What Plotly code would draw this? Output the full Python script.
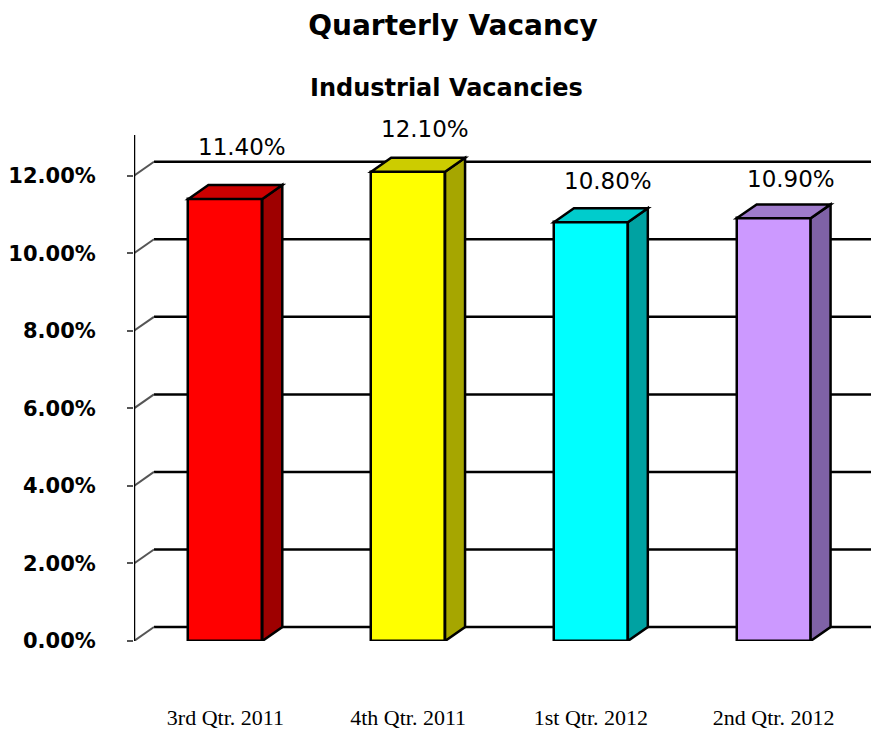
import plotly.graph_objects as go

categories = ["3rd Qtr. 2011", "4th Qtr. 2011", "1st Qtr. 2012", "2nd Qtr. 2012"]
vacancy = [11.40, 12.10, 10.80, 10.90]
front_colors = ["#FF0000", "#FFFF00", "#00FFFF", "#CC99FF"]
top_colors = ["#CC0000", "#CCCC00", "#00CCCC", "#9F7BCB"]
side_colors = ["#9E0000", "#A6A600", "#00A2A2", "#7F62A6"]
tick_values = [0, 2, 4, 6, 8, 10, 12]
tick_labels = ["0.00%", "2.00%", "4.00%", "6.00%", "8.00%", "10.00%", "12.00%"]
label_lift = [38, 29, 27, 25]  # px above the top face for the value labels

OFF = 8  # page body margin
W, H = 879 - OFF, 730 - OFF
L, T = 133 - OFF, 100 - OFF
B = H - (643 - OFF)
R = 0
px_per_x = 183.0
px_per_y = 38.92
plot_w = W - L - R
plot_h = H - T - B
x0 = -0.5
x1 = x0 + plot_w / px_per_x
y1 = plot_h / px_per_y
dx = 20 / px_per_x   # depth offset in x units
dy = 14 / px_per_y   # depth offset in y units
bw = 74 / px_per_x   # bar width
wall_top = 13.05

xs = list(range(len(categories)))

fig = go.Figure()
fig.add_trace(go.Bar(
    x=xs, y=vacancy, width=bw,
    marker=dict(color=front_colors, line=dict(color="black", width=2.5)),
    hoverinfo="skip", showlegend=False,
))

shapes = []
for v in tick_values:
    shapes.append(dict(type="line", xref="x", yref="y", layer="below",
                       x0=x0 + dx, x1=x1, y0=v + dy, y1=v + dy,
                       line=dict(color="black", width=2.5)))
    shapes.append(dict(type="line", xref="x", yref="y", layer="below",
                       x0=x0, x1=x0 + dx, y0=v, y1=v + dy,
                       line=dict(color="#555555", width=2)))
shapes.append(dict(type="line", xref="x", yref="y", layer="above",
                   x0=x0, x1=x0, y0=0, y1=wall_top,
                   line=dict(color="black", width=2.5)))

for i, v in enumerate(vacancy):
    xl = i - bw / 2
    xr = i + bw / 2
    side = f"M {xr},0 L {xr + dx},{dy} L {xr + dx},{v + dy} L {xr},{v} Z"
    top = f"M {xl},{v} L {xl + dx},{v + dy} L {xr + dx},{v + dy} L {xr},{v} Z"
    shapes.append(dict(type="path", path=side, xref="x", yref="y", layer="above",
                       fillcolor=side_colors[i], line=dict(color="black", width=2.5)))
    shapes.append(dict(type="path", path=top, xref="x", yref="y", layer="above",
                       fillcolor=top_colors[i], line=dict(color="black", width=2.5)))

annotations = []
for i, v in enumerate(vacancy):
    annotations.append(dict(
        x=i + dx / 2, y=v + dy, xref="x", yref="y",
        text=f"{v:.2f}%", showarrow=False, xanchor="center", yanchor="middle",
        xshift=7, yshift=label_lift[i],
        font=dict(family="DejaVu Sans", size=23, color="black"),
    ))
annotations.append(dict(
    x=(446 - OFF - L) / plot_w, y=(643 - 88) / plot_h, xref="paper", yref="paper",
    text="<b>Industrial Vacancies</b>", showarrow=False,
    xanchor="center", yanchor="middle",
    font=dict(family="DejaVu Sans", size=24, color="black"),
))

fig.update_layout(
    width=W, height=H,
    margin=dict(l=L, r=R, t=T, b=B),
    paper_bgcolor="white", plot_bgcolor="white",
    title=dict(text="<b>Quarterly Vacancy</b>", x=(453 - OFF) / W, y=1 - (25 - OFF) / H,
               xanchor="center", yanchor="middle", xref="container", yref="container",
               font=dict(family="DejaVu Sans", size=28, color="black")),
    shapes=shapes, annotations=annotations,
    xaxis=dict(range=[x0, x1], tickvals=xs, ticktext=categories,
               showgrid=False, zeroline=False, showline=False, ticks="",
               ticklabelstandoff=61,
               tickfont=dict(family="Liberation Serif", size=22, color="black")),
    yaxis=dict(range=[0, y1], tickvals=tick_values, ticktext=tick_labels,
               showgrid=False, zeroline=False, showline=False,
               ticks="outside", ticklen=6, tickwidth=2, tickcolor="#555555",
               ticklabelstandoff=27,
               tickfont=dict(family="DejaVu Sans", size=21, color="black", weight="bold")),
    bargap=0,
)

fig.write_html("out.html")
